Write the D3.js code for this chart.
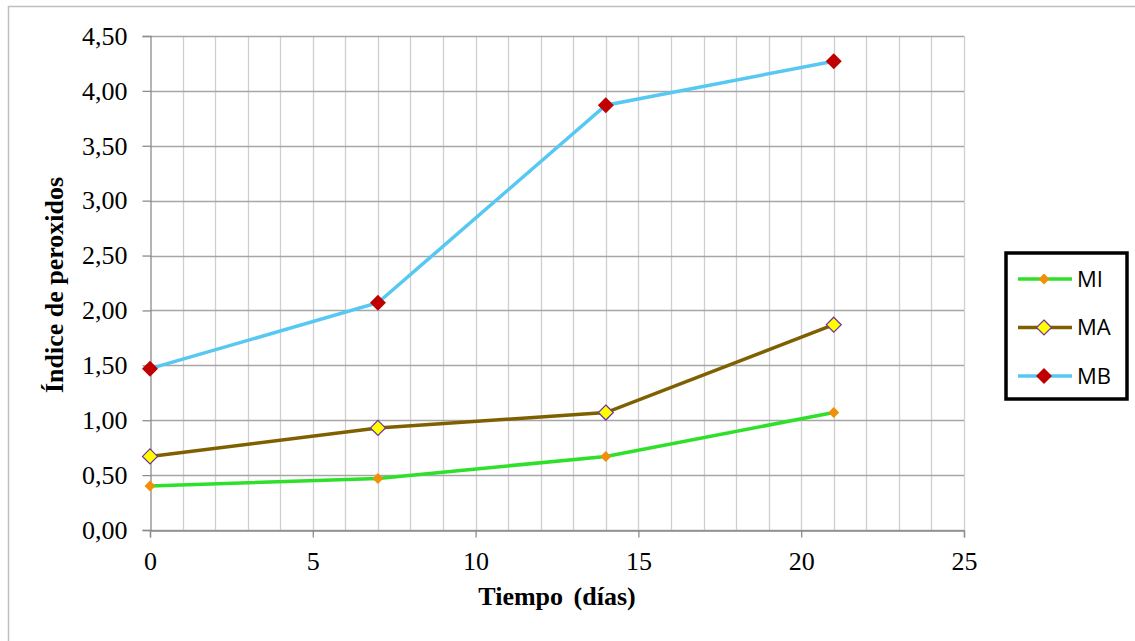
<!DOCTYPE html>
<html>
<head>
<meta charset="utf-8">
<script src="https://cdn.jsdelivr.net/npm/d3@7"></script>
<style>
  body { margin: 0; background: #fff; }
  svg { display: block; }
</style>
</head>
<body>
<div id="chart" style="width:1135px;height:641px"></div>
<script>
// data
var days = [0, 7, 14, 21];
var miValues = [0.40, 0.47, 0.67, 1.07];
var maValues = [0.67, 0.93, 1.07, 1.87];
var mbValues = [1.47, 2.07, 3.87, 4.27];
var seriesNames = ["MI", "MA", "MB"];
var xTicks = [0, 5, 10, 15, 20, 25];
var yTicks = [0, 0.5, 1, 1.5, 2, 2.5, 3, 3.5, 4, 4.5];

var styles = {
  MI: { line: "#2fe02a", fill: "#f0900a", stroke: "none", size: 11 },
  MA: { line: "#7f6000", fill: "#ffff00", stroke: "#7030a0", size: 15 },
  MB: { line: "#56c8f2", fill: "#c00000", stroke: "none", size: 16 }
};

var serif = "'Liberation Serif', 'Times New Roman', serif";

function generateChart(id) {
  var container = d3.select("#" + id);
  var width = container.node().clientWidth;
  var height = container.node().clientHeight;

  var svg = container.append("svg")
    .attr("width", width)
    .attr("height", height);

  // outer frame
  svg.append("rect")
    .attr("x", 8.5).attr("y", 6.5)
    .attr("width", 1140).attr("height", 660)
    .attr("fill", "white")
    .attr("stroke", "#bfbfbf")
    .attr("stroke-width", 1.5);

  var x = d3.scaleLinear().domain([0, 25]).range([150, 964]);
  var y = d3.scaleLinear().domain([0, 4.5]).range([530, 36]);

  var g = svg.append("g");

  // minor vertical grid (every day)
  g.selectAll(".vgrid")
    .data(d3.range(1, 26))
    .enter().append("line")
    .attr("x1", function(d) { return Math.round(x(d)) + 0.5; })
    .attr("x2", function(d) { return Math.round(x(d)) + 0.5; })
    .attr("y1", y(4.5)).attr("y2", y(0))
    .attr("stroke", "#cfcfcf")
    .attr("stroke-width", 1.3);

  // horizontal grid
  g.selectAll(".hgrid")
    .data(yTicks)
    .enter().append("line")
    .attr("x1", x(0)).attr("x2", x(25))
    .attr("y1", function(d) { return Math.round(y(d)) + 0.5; })
    .attr("y2", function(d) { return Math.round(y(d)) + 0.5; })
    .attr("stroke", "#a6a6a6")
    .attr("stroke-width", 1.3);

  // x axis
  var xAxis = g.append("g")
    .attr("transform", "translate(0," + (Math.round(y(0)) + 0.5) + ")")
    .call(d3.axisBottom(x).tickValues(xTicks).tickSize(7).tickPadding(14).tickFormat(d3.format("d")));
  // y axis
  var yAxis = g.append("g")
    .attr("transform", "translate(" + (Math.round(x(0)) + 0.5) + ",0)")
    .call(d3.axisLeft(y).tickValues(yTicks).tickSize(8).tickPadding(15)
      .tickFormat(function(d) { return d.toFixed(2).replace(".", ","); }));

  [xAxis, yAxis].forEach(function(ax) {
    ax.attr("font-family", serif).attr("font-size", 26);
    ax.select(".domain").attr("stroke", "#8c8c8c").attr("stroke-width", 1.3);
    ax.selectAll(".tick line").attr("stroke", "#8c8c8c").attr("stroke-width", 1.3);
    ax.selectAll(".tick text").attr("fill", "black");
  });

  // axis titles
  svg.append("text")
    .attr("x", 557).attr("y", 605)
    .attr("text-anchor", "middle")
    .attr("font-family", serif)
    .attr("font-weight", "bold")
    .attr("font-size", 26)
    .attr("word-spacing", 4)
    .text("Tiempo (días)");
  svg.append("text")
    .attr("transform", "translate(63,285) rotate(-90)")
    .attr("text-anchor", "middle")
    .attr("font-family", serif)
    .attr("font-weight", "bold")
    .attr("font-size", 26)
    .text("Índice de peroxidos");

  var allValues = { MI: miValues, MA: maValues, MB: mbValues };
  var line = d3.line()
    .x(function(d) { return x(d.day); })
    .y(function(d) { return y(d.value); });

  seriesNames.forEach(function(name) {
    var pts = days.map(function(d, i) { return { day: d, value: allValues[name][i] }; });
    var s = styles[name];
    g.append("path")
      .datum(pts)
      .attr("fill", "none")
      .attr("stroke", s.line)
      .attr("stroke-width", 3.5)
      .attr("d", line);
    g.selectAll(".m" + name)
      .data(pts)
      .enter().append("path")
      .attr("transform", function(d) { return "translate(" + x(d.day) + "," + y(d.value) + ")"; })
      .attr("d", diamond(s.size))
      .attr("fill", s.fill)
      .attr("stroke", s.stroke)
      .attr("stroke-width", 1.2);
  });

  // legend
  var lg = svg.append("g");
  lg.append("rect")
    .attr("x", 1006).attr("y", 253)
    .attr("width", 121).attr("height", 146)
    .attr("fill", "white")
    .attr("stroke", "black")
    .attr("stroke-width", 3.5);
  seriesNames.forEach(function(name, i) {
    var s = styles[name];
    var ly = 279 + i * 48.5;
    lg.append("line")
      .attr("x1", 1018).attr("x2", 1072)
      .attr("y1", ly).attr("y2", ly)
      .attr("stroke", s.line)
      .attr("stroke-width", 3.5);
    lg.append("path")
      .attr("transform", "translate(1044," + ly + ")")
      .attr("d", diamond(s.size))
      .attr("fill", s.fill)
      .attr("stroke", s.stroke)
      .attr("stroke-width", 1.2);
    lg.append("text")
      .attr("x", 1077).attr("y", ly)
      .attr("dy", "0.36em")
      .attr("font-family", "'Open Sans', 'Noto Sans', sans-serif")
      .attr("font-size", 22)
      .text(name);
  });
}

function diamond(size) {
  var h = size / 2;
  return "M0," + (-h) + "L" + h + ",0L0," + h + "L" + (-h) + ",0Z";
}

generateChart("chart");
</script>
</body>
</html>
